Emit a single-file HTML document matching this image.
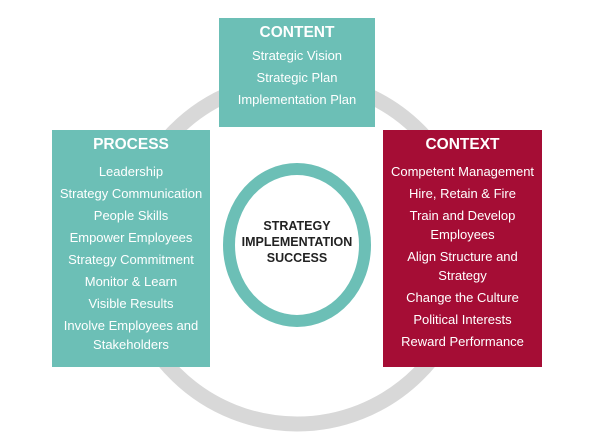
<!DOCTYPE html>
<html><head><style>
body{margin:0;width:600px;height:434px;background:#fff;overflow:hidden;position:relative;font-family:"Liberation Sans",sans-serif}
.box{position:absolute;color:#fff;text-align:center}
.t{position:absolute;left:0;right:0;font-size:13px;white-space:nowrap}
.h{position:absolute;left:0;right:0;font-size:15.5px;font-weight:bold}
</style></head><body>
<svg width="600" height="434" style="position:absolute;left:0;top:0">
<circle cx="297" cy="252" r="172" fill="none" stroke="#d8d8d8" stroke-width="15"/>
<ellipse cx="297" cy="245" rx="68" ry="76" fill="#fff" stroke="#6cbfb6" stroke-width="12"/>
<text x="297" y="230" text-anchor="middle" font-family="Liberation Sans" font-weight="bold" font-size="12.5" fill="#222">STRATEGY</text>
<text x="297" y="246" text-anchor="middle" font-family="Liberation Sans" font-weight="bold" font-size="12.5" fill="#222">IMPLEMENTATION</text>
<text x="297" y="262" text-anchor="middle" font-family="Liberation Sans" font-weight="bold" font-size="12.5" fill="#222">SUCCESS</text>
</svg>
<div class="box" style="left:219px;top:18px;width:156px;height:109px;background:#6cbfb6">
<div class="h" style="top:6px">CONTENT</div>
<div class="t" style="top:30px">Strategic Vision</div>
<div class="t" style="top:52px">Strategic Plan</div>
<div class="t" style="top:74px">Implementation Plan</div>
</div>
<div class="box" style="left:52px;top:130px;width:158px;height:237px;background:#6cbfb6">
<div class="h" style="top:6px">PROCESS</div>
<div class="t" style="top:34px">Leadership</div>
<div class="t" style="top:56px">Strategy Communication</div>
<div class="t" style="top:78px">People Skills</div>
<div class="t" style="top:100px">Empower Employees</div>
<div class="t" style="top:122px">Strategy Commitment</div>
<div class="t" style="top:144px">Monitor &amp; Learn</div>
<div class="t" style="top:166px">Visible Results</div>
<div class="t" style="top:188px">Involve Employees and</div>
<div class="t" style="top:207px">Stakeholders</div>
</div>
<div class="box" style="left:383px;top:130px;width:159px;height:237px;background:#a50d35">
<div class="h" style="top:6px">CONTEXT</div>
<div class="t" style="top:34px">Competent Management</div>
<div class="t" style="top:56px">Hire, Retain &amp; Fire</div>
<div class="t" style="top:78px">Train and Develop</div>
<div class="t" style="top:97px">Employees</div>
<div class="t" style="top:119px">Align Structure and</div>
<div class="t" style="top:138px">Strategy</div>
<div class="t" style="top:160px">Change the Culture</div>
<div class="t" style="top:182px">Political Interests</div>
<div class="t" style="top:204px">Reward Performance</div>
</div>
</body></html>
